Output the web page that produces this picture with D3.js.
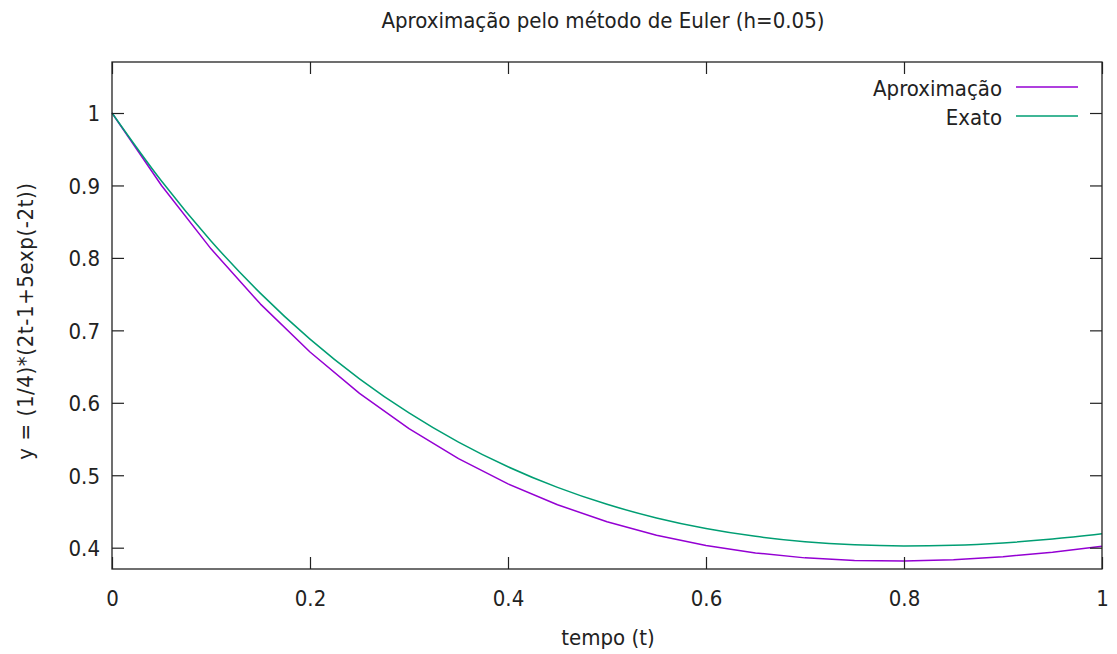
<!DOCTYPE html>
<html>
<head>
<meta charset="utf-8">
<script src="https://cdn.jsdelivr.net/npm/d3@7"></script>
<style>
  html, body { margin: 0; padding: 0; background: #fff; }
  svg { display: block; }
  text { font-family: "DejaVu Sans Condensed", "DejaVu Sans", sans-serif; fill: #222; }
</style>
</head>
<body>
<svg id="chart" width="1117" height="654"></svg>
<script>
// ---- data ----
const tValues = [0, 0.05, 0.1, 0.15, 0.2, 0.25, 0.3, 0.35, 0.4, 0.45, 0.5,
                 0.55, 0.6, 0.65, 0.7, 0.75, 0.8, 0.85, 0.9, 0.95, 1.0];
const aproximacao = [1, 0.9, 0.8125, 0.73625, 0.670125, 0.6131125, 0.56430125,
                     0.522871, 0.488084, 0.459276, 0.435848, 0.417263, 0.403037,
                     0.392733, 0.385960, 0.382364, 0.381628, 0.383465, 0.387618,
                     0.393856, 0.401971];
const exato = [1, 0.906047, 0.823413, 0.751023, 0.687900, 0.633163, 0.586015,
               0.545731, 0.511661, 0.483212, 0.459849, 0.441089, 0.426493,
               0.415665, 0.408246, 0.403913, 0.402371, 0.403355, 0.406624,
               0.411961, 0.419169];
const xTicks = [0, 0.2, 0.4, 0.6, 0.8, 1];
const yTicks = [0.4, 0.5, 0.6, 0.7, 0.8, 0.9, 1];
const seriesNames = ["Aproximação", "Exato"];
const seriesColors = ["#9400d3", "#009e73"];
const titleText = "Aproximação pelo método de Euler (h=0.05)";
const xLabel = "tempo (t)";
const yLabel = "y = (1/4)*(2t-1+5exp(-2t))";

// ---- layout ----
const svg = d3.select("#chart");
const pLeft = 112, pRight = 1102, pTop = 62, pBottom = 569;
const x = d3.scaleLinear().domain([0, 1]).range([pLeft, pRight]);
const y = d3.scaleLinear().domain([0.3706, 1.0704]).range([pBottom, pTop]);
const fs = 22;
const tickLen = 12;
const ff = '"DejaVu Sans Condensed", "DejaVu Sans", sans-serif';

// lines
const series = [aproximacao, exato];
const line = d3.line()
  .x((d, i) => x(tValues[i]))
  .y(d => y(d));
const curveLine = d3.line()
  .x((d, i) => x(tValues[i]))
  .y(d => y(d))
  .curve(d3.curveMonotoneX);

svg.append("g")
  .selectAll("path")
  .data(series)
  .join("path")
  .attr("d", (d, i) => i === 0 ? line(d) : curveLine(d))
  .attr("fill", "none")
  .attr("stroke", (d, i) => seriesColors[i])
  .attr("stroke-width", 1.5)
  .attr("stroke-linejoin", "round");

// axes (gnuplot style: ticks inward, mirrored)
const axisColor = "#222";
const gB = svg.append("g").attr("transform", `translate(0,${pBottom})`)
  .call(d3.axisBottom(x).tickValues(xTicks).tickSizeInner(-tickLen).tickSizeOuter(0)
        .tickFormat(d3.format("")));
const gT = svg.append("g").attr("transform", `translate(0,${pTop})`)
  .call(d3.axisTop(x).tickValues(xTicks).tickSizeInner(-tickLen).tickSizeOuter(0)
        .tickFormat(""));
const gL = svg.append("g").attr("transform", `translate(${pLeft},0)`)
  .call(d3.axisLeft(y).tickValues(yTicks).tickSizeInner(-tickLen).tickSizeOuter(0)
        .tickFormat(d3.format("")));
const gR = svg.append("g").attr("transform", `translate(${pRight},0)`)
  .call(d3.axisRight(y).tickValues(yTicks).tickSizeInner(-tickLen).tickSizeOuter(0)
        .tickFormat(""));
[gB, gT, gL, gR].forEach(g => {
  g.select(".domain").remove();
  g.selectAll(".tick line").attr("stroke", axisColor).attr("stroke-width", 1.2);
  g.selectAll(".tick text").attr("font-size", fs).attr("fill", "#222")
    .style("font-family", ff);
});
gB.selectAll(".tick text").attr("y", 37).attr("dy", 0);
gL.selectAll(".tick text").attr("x", -12).attr("dy", "0.36em");
svg.append("rect")
  .attr("x", pLeft).attr("y", pTop)
  .attr("width", pRight - pLeft).attr("height", pBottom - pTop)
  .attr("fill", "none").attr("stroke", axisColor).attr("stroke-width", 1.3);

// title & labels
svg.append("text").attr("x", 603).attr("y", 28).attr("text-anchor", "middle")
  .attr("font-size", fs).text(titleText);
svg.append("text").attr("x", 608).attr("y", 645).attr("text-anchor", "middle")
  .attr("font-size", fs).text(xLabel);
svg.append("text").attr("transform", "translate(33,321) rotate(-90)")
  .attr("text-anchor", "middle").attr("font-size", fs)
  .attr("letter-spacing", 0.6).text(yLabel);

// legend
const legend = svg.append("g");
seriesNames.forEach((name, i) => {
  const ly = 87 + i * 29;
  legend.append("text").attr("x", 1002).attr("y", ly + 9)
    .attr("text-anchor", "end").attr("font-size", fs).text(name);
  legend.append("line").attr("x1", 1016).attr("x2", 1078)
    .attr("y1", ly).attr("y2", ly)
    .attr("stroke", seriesColors[i]).attr("stroke-width", 1.5);
});
</script>
</body>
</html>
